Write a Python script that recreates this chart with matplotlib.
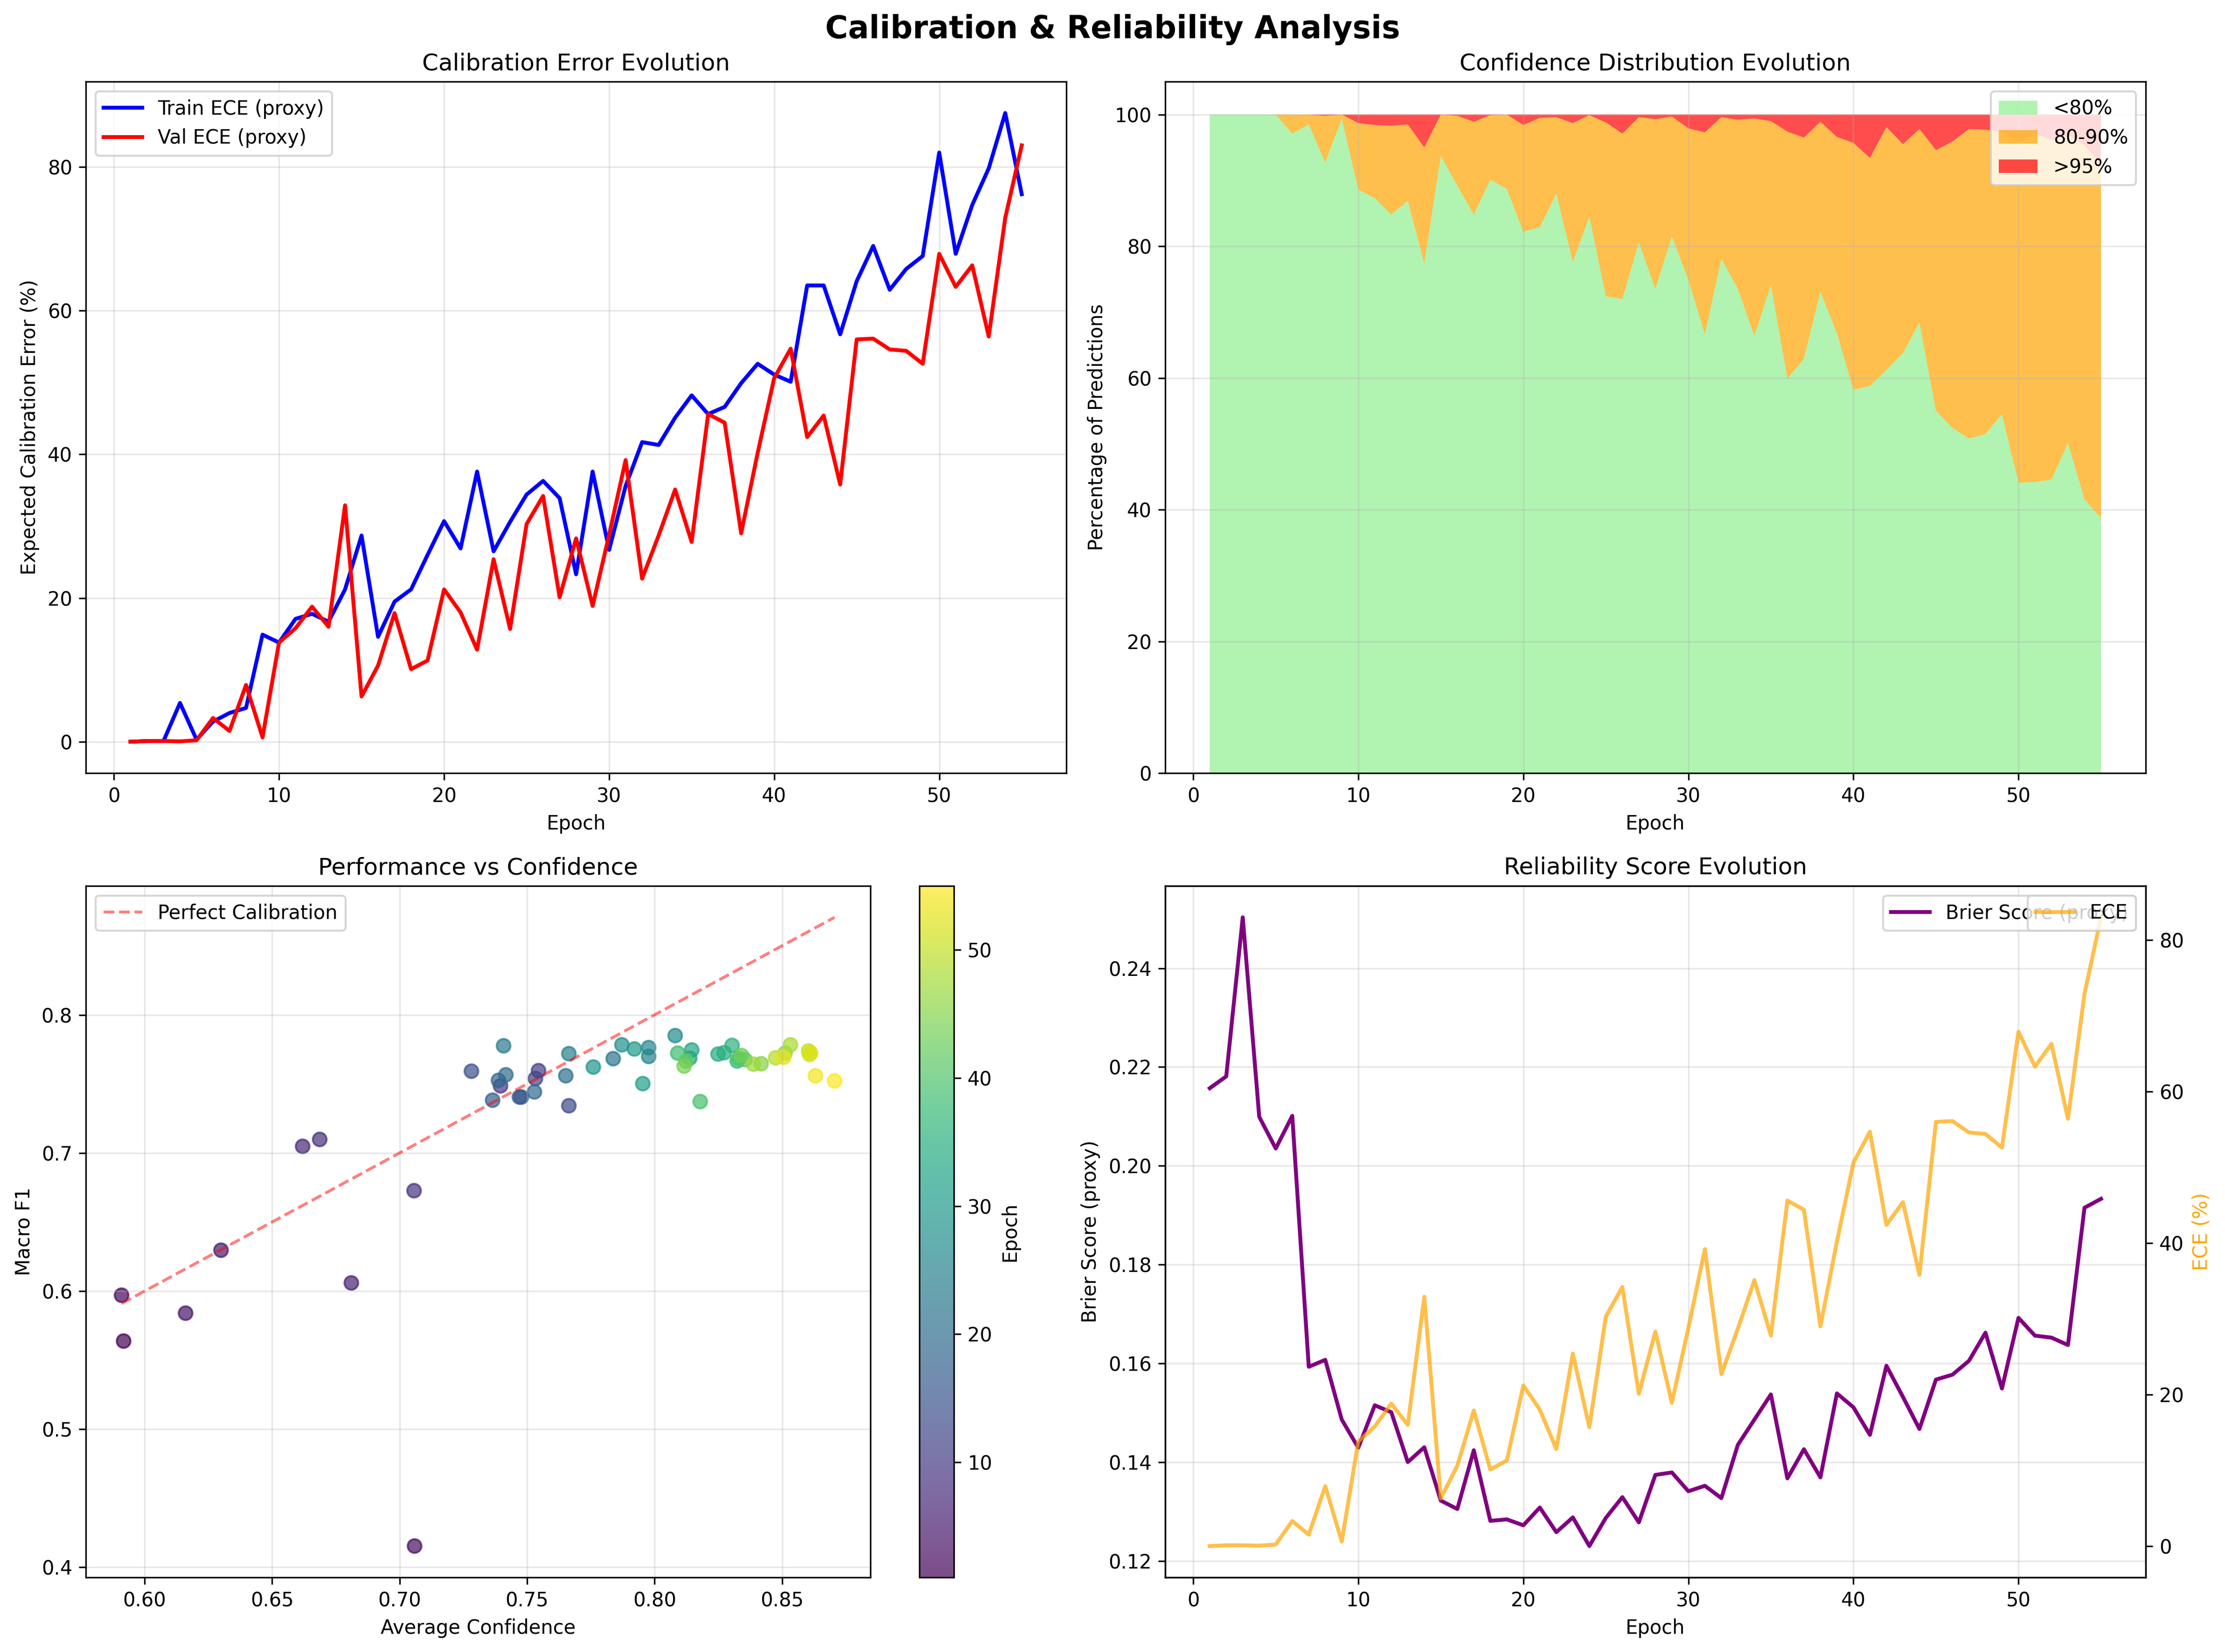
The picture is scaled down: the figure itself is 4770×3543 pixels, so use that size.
import numpy as np
import matplotlib
matplotlib.use("Agg")
import matplotlib.pyplot as plt

epochs = np.arange(1, 56)

train_ece = [0, 0.1, 0.1, 5.4, 0.3, 2.8, 4.0, 4.7, 14.9, 13.8,
             17.1, 17.8, 16.7, 21.2, 28.7, 14.6, 19.5, 21.2, 26.0, 30.7,
             26.9, 37.6, 26.5, 30.6, 34.4, 36.3, 33.9, 23.3, 37.6, 26.7,
             35.6, 41.7, 41.3, 45.1, 48.2, 45.6, 46.6, 49.9, 52.6, 51.1,
             50.1, 63.5, 63.5, 56.7, 64.1, 69.0, 62.9, 65.8, 67.6, 82.0,
             67.9, 74.7, 79.8, 87.5, 76.2]
val_ece = [0, 0.1, 0.1, 0.05, 0.2, 3.3, 1.5, 7.9, 0.6, 13.8,
           15.8, 18.8, 16.0, 32.9, 6.3, 10.6, 17.9, 10.1, 11.3, 21.2,
           18.0, 12.8, 25.4, 15.7, 30.3, 34.2, 20.1, 28.3, 18.9, 28.8,
           39.2, 22.7, 28.7, 35.1, 27.8, 45.6, 44.4, 29.0, 40.2, 50.6,
           54.7, 42.4, 45.4, 35.8, 56.0, 56.1, 54.6, 54.4, 52.6, 67.9,
           63.3, 66.3, 56.4, 72.9, 83.0]

# confidence buckets (% of predictions)
pct_low = [100, 100, 100, 100, 100, 97.1, 98.5, 92.7, 99.4, 88.6,
           87.3, 84.8, 86.9, 77.4, 93.7, 89.2, 84.8, 90.1, 88.7, 82.2,
           82.9, 88.0, 77.6, 84.5, 72.4, 72.0, 80.6, 73.5, 81.5, 74.9,
           66.6, 78.1, 73.5, 66.4, 74.1, 59.9, 62.9, 73.1, 66.8, 58.2,
           58.8, 61.2, 63.8, 68.4, 55.0, 52.4, 50.8, 51.5, 54.5, 44.1,
           44.2, 44.6, 50.1, 41.6, 38.7]
pct_high = [0, 0, 0, 0, 0, 0, 0, 0.2, 0, 1.3,
            1.6, 1.7, 1.5, 5.0, 0, 0.2, 1.1, 0.1, 0, 1.6,
            0.5, 0.4, 1.3, 0.1, 1.2, 2.9, 0.4, 0.7, 0.3, 2.1,
            2.7, 0.4, 0.8, 0.6, 1.0, 2.6, 3.5, 1.1, 3.4, 4.3,
            6.6, 1.9, 4.5, 2.2, 5.4, 4.1, 2.2, 2.3, 2.7, 4.3,
            2.9, 3.9, 3.1, 4.7, 7.5]
pct_mid = [100 - a - b for a, b in zip(pct_low, pct_high)]

avg_conf = [0.5918, 0.591, 0.7059, 0.6161, 0.630, 0.6811, 0.662, 0.6687, 0.7057, 0.7396,
            0.7545, 0.7533, 0.7664, 0.7282, 0.7470, 0.7478, 0.7365, 0.7388, 0.7529, 0.7417,
            0.7652, 0.7838, 0.7408, 0.7664, 0.7977, 0.7977, 0.8081, 0.7872, 0.7760, 0.7921,
            0.7954, 0.8138, 0.8146, 0.8249, 0.8273, 0.8304, 0.8324, 0.8091, 0.8179, 0.8330,
            0.8355, 0.8124, 0.8341, 0.8116, 0.8418, 0.8512, 0.8388, 0.8533, 0.8475, 0.8604,
            0.8608, 0.8612, 0.8506, 0.8631, 0.8706]
macro_f1 = [0.5638, 0.597, 0.4154, 0.584, 0.6296, 0.6059, 0.7048, 0.7098, 0.6727, 0.7486,
            0.7596, 0.7539, 0.7342, 0.7592, 0.7405, 0.7405, 0.7382, 0.7526, 0.7442, 0.7566,
            0.7559, 0.7683, 0.7776, 0.7719, 0.7699, 0.7763, 0.7850, 0.7783, 0.7622, 0.7753,
            0.7502, 0.7686, 0.7746, 0.7716, 0.7726, 0.7779, 0.7666, 0.7723, 0.7372, 0.7686,
            0.7676, 0.7666, 0.7706, 0.7629, 0.7646, 0.7723, 0.7643, 0.7783, 0.7689, 0.7739,
            0.7713, 0.7725, 0.7693, 0.7559, 0.7522]

brier = [0.2157, 0.2181, 0.2503, 0.2099, 0.2035, 0.2101, 0.1593, 0.1607, 0.1486, 0.1429,
         0.1515, 0.1501, 0.1400, 0.1430, 0.1322, 0.1305, 0.1424, 0.1281, 0.1284, 0.1272,
         0.1308, 0.1258, 0.1288, 0.1230, 0.1287, 0.1329, 0.1278, 0.1374, 0.1379, 0.1341,
         0.1352, 0.1327, 0.1435, 0.1486, 0.1537, 0.1367, 0.1426, 0.1369, 0.1539, 0.1511,
         0.1455, 0.1595, 0.1532, 0.1467, 0.1567, 0.1577, 0.1605, 0.1662, 0.1549, 0.1692,
         0.1656, 0.1652, 0.1637, 0.1915, 0.1933]

fig, axes = plt.subplots(2, 2, figsize=(16, 12))
fig.suptitle('Calibration & Reliability Analysis', fontsize=16, fontweight='bold')

# calibration error
ax = axes[0, 0]
ax.plot(epochs, train_ece, 'b-', linewidth=2, label='Train ECE (proxy)')
ax.plot(epochs, val_ece, 'r-', linewidth=2, label='Val ECE (proxy)')
ax.set_title('Calibration Error Evolution')
ax.set_xlabel('Epoch')
ax.set_ylabel('Expected Calibration Error (%)')
ax.legend()
ax.grid(True, alpha=0.3)

# confidence distribution
ax = axes[0, 1]
ax.stackplot(epochs, pct_low, pct_mid, pct_high,
             labels=['<80%', '80-90%', '>95%'],
             colors=['lightgreen', 'orange', 'red'], alpha=0.7)
ax.set_title('Confidence Distribution Evolution')
ax.set_xlabel('Epoch')
ax.set_ylabel('Percentage of Predictions')
ax.legend(loc='upper right')
ax.grid(True, alpha=0.3)

# performance vs confidence
ax = axes[1, 0]
sc = ax.scatter(avg_conf, macro_f1, c=epochs, cmap='viridis', s=50, alpha=0.7)
lo, hi = min(avg_conf), max(avg_conf)
ax.plot([lo, hi], [lo, hi], 'r--', alpha=0.5, label='Perfect Calibration')
cbar = plt.colorbar(sc, ax=ax)
cbar.set_label('Epoch')
ax.set_title('Performance vs Confidence')
ax.set_xlabel('Average Confidence')
ax.set_ylabel('Macro F1')
ax.legend()
ax.grid(True, alpha=0.3)

# reliability
ax = axes[1, 1]
ax.plot(epochs, brier, color='purple', linewidth=2, label='Brier Score (proxy)')
ax.set_xlabel('Epoch')
ax.set_ylabel('Brier Score (proxy)')
ax.set_title('Reliability Score Evolution')
ax.grid(True, alpha=0.3)
ax.legend(loc='upper right')
ax2 = ax.twinx()
ax2.plot(epochs, val_ece, color='orange', linewidth=2, alpha=0.7, label='ECE')
ax2.set_ylabel('ECE (%)', color='orange')
ax2.legend(loc='upper right')

plt.tight_layout()
plt.savefig('out.png', dpi=300, bbox_inches='tight')
